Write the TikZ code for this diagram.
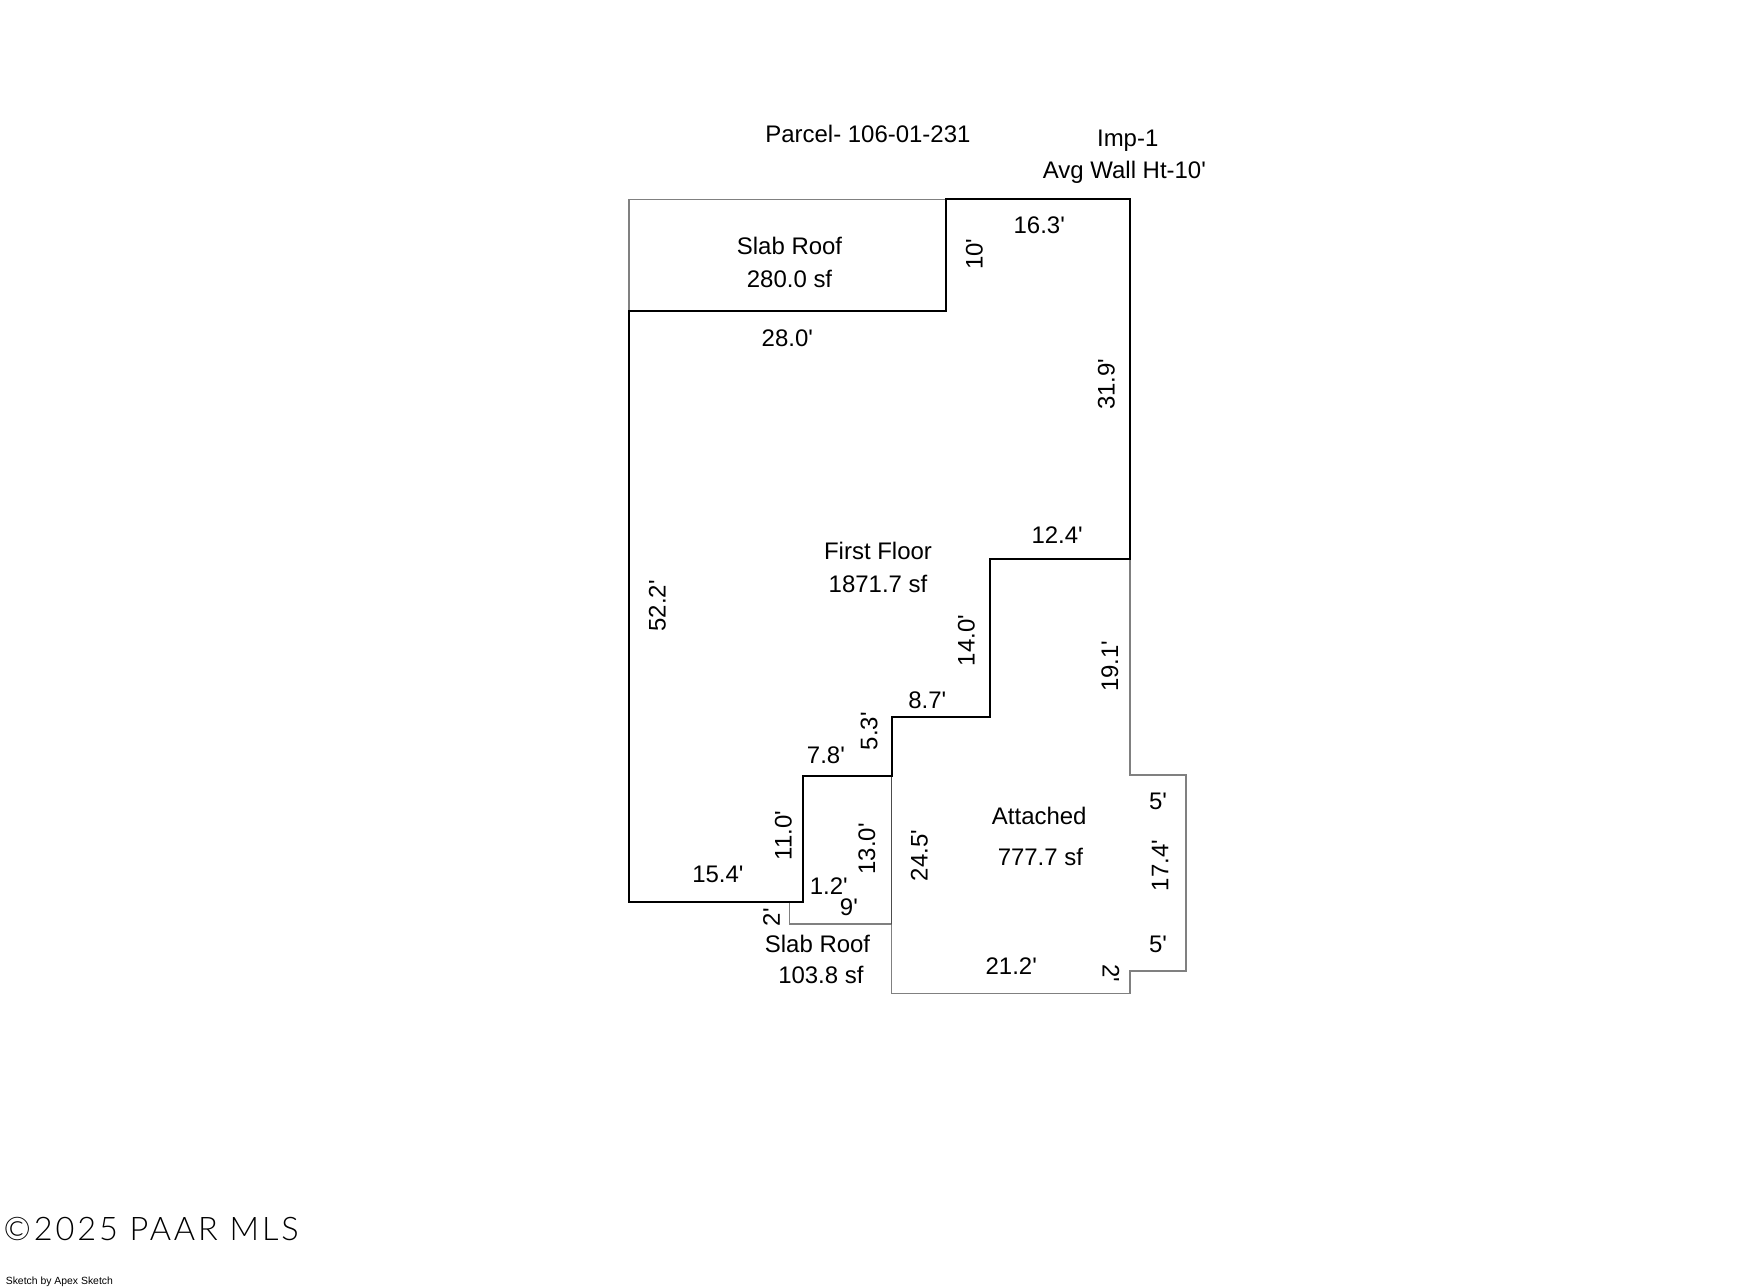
\documentclass[tikz,border=0pt]{standalone}
\usepackage{fontspec}
\setmainfont[Ligatures=TeXOff]{Liberation Sans}
\newfontfamily\MarkFont[LetterSpace=9]{Lato Light}
\definecolor{MinorColor}{gray}{0.5}
\definecolor{MidColor}{gray}{0.3}
\tikzset{
  lbl/.style={inner sep=0pt,font=\fontsize{21.4}{26}\selectfont},
  lblup/.style={lbl,rotate=90},
  lbldown/.style={lbl,rotate=-90},
  wall/.style={line width=1.8pt,color=black},
  minorwall/.style={line width=1.3pt,color=MinorColor}
}
\begin{document}
\begin{tikzpicture}[line cap=round,line join=miter,x=1pt,y=-1pt]
  \useasboundingbox (0,0) rectangle (1568,1150);
  \draw[minorwall] (561.5,278) -- (561.5,178) -- (845,178);
  \draw[minorwall] (1009,499) -- (1009,692) -- (1059,692) -- (1059,867) -- (1009,867)
  -- (1009,887) -- (796,887) -- (796,825) -- (705,825) -- (705,805);
  \draw[line width=1.3pt,color=MidColor] (796,693) -- (796,825);
  \draw[wall] (845,178) -- (1009,178) -- (1009,499) -- (884,499) -- (884,640) -- (796.3,640)
  -- (796.3,693) -- (717,693) -- (717,805) -- (561.5,805) -- (561.5,278) -- (845,278) -- cycle;
  \node[lbl] (parcel) at (775,120) {Parcel- 106-01-231};
  \node[lbl] (imp) at (1007,126) {Imp-1};
  \node[lbl] (wallht) at (1004,154) {Avg Wall Ht-10'};
  \node[lbl] (slabtopa) at (705,219.5) {Slab Roof};
  \node[lbl] (slabtopb) at (705,249) {280.0 sf};
  \node[lbl] (floora) at (784,492) {First Floor};
  \node[lbl] (floorb) at (784,521) {1871.7 sf};
  \node[lbl] (attacheda) at (928,729) {Attached};
  \node[lbl] (attachedb) at (929,765) {777.7 sf};
  \node[lbl] (slabbota) at (730,843) {Slab Roof};
  \node[lbl] (slabbotb) at (733,871) {103.8 sf};
  \node[lbl] (dima) at (928,201.5) {16.3'};
  \node[lbl] (dimb) at (703,302) {28.0'};
  \node[lbl] (dimc) at (944,478) {12.4'};
  \node[lbl] (dimd) at (828,625) {8.7'};
  \node[lbl] (dime) at (737.5,674) {7.8'};
  \node[lbl] (dimf) at (641,781) {15.4'};
  \node[lbl] (dimg) at (740,791) {1.2'};
  \node[lbl] (dimh) at (758,810) {9'};
  \node[lbl] (dimi) at (903,863) {21.2'};
  \node[lbl] (dimj) at (1034,715.5) {5'};
  \node[lbl] (dimk) at (1034,843) {5'};
  \node[lblup] (dimm) at (870,227) {10'};
  \node[lblup] (dimn) at (988,343) {31.9'};
  \node[lblup] (dimo) at (587,541) {52.2'};
  \node[lblup] (dimp) at (863,572) {14.0'};
  \node[lblup] (dimq) at (991,595) {19.1'};
  \node[lblup] (dimr) at (776,653) {5.3'};
  \node[lblup] (dims) at (699.5,746) {11.0'};
  \node[lblup] (dimt) at (774,758) {13.0'};
  \node[lblup] (dimu) at (821,764) {24.5'};
  \node[lblup] (dimv) at (1036,773) {17.4'};
  \node[lblup] (dimw) at (689,819) {2'};
  \node[lbldown] (dimx) at (992,869) {2'};
  \node[inner sep=0pt,anchor=west,font=\MarkFont\fontsize{29}{34}\selectfont] (mark) at (3,1097) {©2025 PAAR MLS};
  \node[inner sep=0pt,anchor=west,font=\fontsize{9.3}{12}\selectfont] (credit) at (5,1145) {Sketch by Apex Sketch};
\end{tikzpicture}
\end{document}
